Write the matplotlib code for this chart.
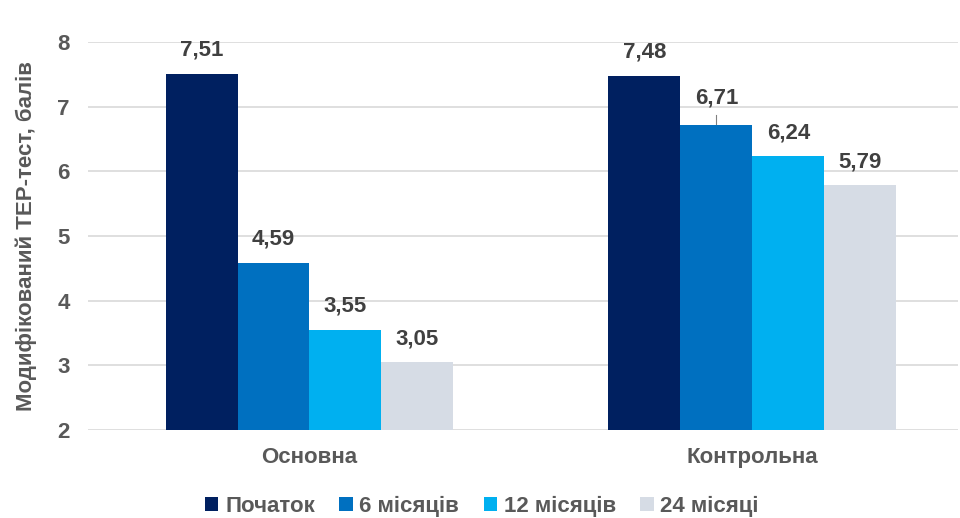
import matplotlib
matplotlib.use("Agg")
import matplotlib.pyplot as plt
import numpy as np

plt.rcParams['font.family'] = ['Liberation Sans', 'DejaVu Sans']

categories = ["Основна", "Контрольна"]
series_names = ["Початок", "6 місяців", "12 місяців", "24 місяці"]
values = {
    "Початок": [7.51, 7.48],
    "6 місяців": [4.59, 6.71],
    "12 місяців": [3.55, 6.24],
    "24 місяці": [3.05, 5.79],
}
value_labels = {
    "Початок": ["7,51", "7,48"],
    "6 місяців": ["4,59", "6,71"],
    "12 місяців": ["3,55", "6,24"],
    "24 місяці": ["3,05", "5,79"],
}
colors = ["#002060", "#0070C0", "#00B0F0", "#D6DCE5"]
yticks = [2, 3, 4, 5, 6, 7, 8]

fig = plt.figure(figsize=(9.6, 5.18), dpi=100)
ax = fig.add_axes([88/960, 1-430/518, (958-88)/960, (430-42)/518])

x = np.arange(len(categories))
w = 0.1625
txt = "#404040"
FS = 16
for i, (name, c) in enumerate(zip(series_names, colors)):
    pos = x + (i - 1.5) * w
    ax.bar(pos, np.array(values[name]) - 2, bottom=2, width=w, color=c, label=name, zorder=3)
    for j, (p, v, lab) in enumerate(zip(pos, values[name], value_labels[name])):
        off = 0.36
        if name == "6 місяців" and j == 1:
            off = 0.42
            ax.plot([p, p], [v + 0.02, v + 0.16], color="#808080", lw=0.8, zorder=4)
        ax.text(p, v + off, lab, ha="center", va="center", fontsize=FS,
                fontweight="bold", color=txt)

ax.set_ylim(2, 8)
ax.set_xlim(-0.5, 1.464)
ax.set_yticks(yticks)
ax.set_yticklabels([str(t) for t in yticks], fontsize=FS, fontweight="bold", color="#595959")
ax.set_xticks(x)
ax.set_xticklabels(categories, fontsize=FS, fontweight="bold", color="#595959")
ax.tick_params(axis="both", length=0)
ax.tick_params(axis="y", pad=13)
ax.tick_params(axis="x", pad=12)
ax.grid(axis="y", color="#D9D9D9", lw=1.2, zorder=0)
for s in ax.spines.values():
    s.set_visible(False)
ax.set_ylabel("Модифікований ТЕР-тест, балів", fontsize=FS, fontweight="bold",
              color="#595959", labelpad=15)

leg = fig.legend(loc="center", bbox_to_anchor=(0.502, 1-506/518), ncol=4, frameon=False,
                 prop={"size": FS, "weight": "bold"}, handlelength=0.6, handleheight=0.6,
                 handletextpad=0.3, columnspacing=1.1)
for t in leg.get_texts():
    t.set_color("#595959")

fig.savefig("out.png", dpi=100)
